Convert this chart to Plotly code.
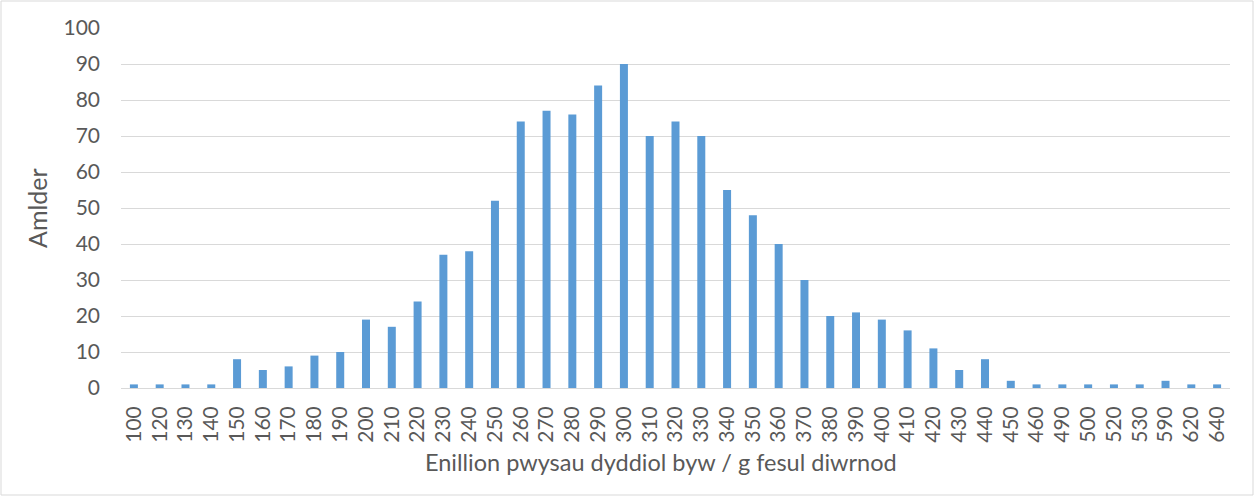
import plotly.graph_objects as go

categories = ["100","120","130","140","150","160","170","180","190","200","210","220",
              "230","240","250","260","270","280","290","300","310","320","330","340",
              "350","360","370","380","390","400","410","420","430","440","450","460",
              "490","500","520","530","590","620","640"]
frequency = [1,1,1,1,8,5,6,9,10,19,17,24,37,38,52,74,77,76,84,90,70,74,70,55,
             48,40,30,20,21,19,16,11,5,8,2,1,1,1,1,1,2,1,1]
y_ticks = list(range(0, 101, 10))
x_title = "Enillion pwysau dyddiol byw / g fesul diwrnod"
y_title = "Amlder"

W, H = 1255, 497
L, R, T, B = 121, 25, 28, 109
pw, ph = W - L - R, H - T - B

def px_x(p):
    return (p - L) / pw

def px_y(p):
    return (H - B - p) / ph

fig = go.Figure(go.Bar(x=categories, y=frequency,
                       marker=dict(color="#5b9bd5", line=dict(width=0))))

font = "Lato, Carlito, Calibri, sans-serif"
txt = "#595959"
fig.update_layout(
    width=W, height=H,
    margin=dict(l=L, r=R, t=T, b=B, autoexpand=False),
    paper_bgcolor="white", plot_bgcolor="white",
    bargap=0.69,
    showlegend=False,
    font=dict(family=font, color=txt, size=21),
    xaxis=dict(type="category", tickangle=-90, showgrid=False, showline=False,
               ticks="", tickfont=dict(size=21, color=txt), automargin=False,
               ticklabelstandoff=13),
    yaxis=dict(range=[0, 100], tickvals=y_ticks, showgrid=True, gridcolor="#d9d9d9",
               gridwidth=1, zeroline=True, zerolinecolor="#d9d9d9", zerolinewidth=1,
               showline=False, ticks="", tickfont=dict(size=21, color=txt),
               automargin=False, ticklabelstandoff=20),
    annotations=[
        dict(text=x_title, xref="paper", yref="paper", x=px_x(661), y=px_y(462),
             xanchor="center", yanchor="middle", showarrow=False,
             font=dict(size=23.5, color=txt)),
        dict(text=y_title, xref="paper", yref="paper", x=px_x(37), y=px_y(208),
             xanchor="center", yanchor="middle", showarrow=False, textangle=-90,
             font=dict(size=25, color=txt)),
    ],
    shapes=[dict(type="rect", xref="paper", yref="paper",
                 x0=px_x(1), x1=px_x(W - 2),
                 y0=px_y(H - 2), y1=px_y(1),
                 line=dict(color="#d9d9d9", width=1), fillcolor="rgba(0,0,0,0)")],
)

fig.write_html("out.html", config={"displayModeBar": False},
               post_script="document.body.style.margin='0';document.body.style.padding='0';")
